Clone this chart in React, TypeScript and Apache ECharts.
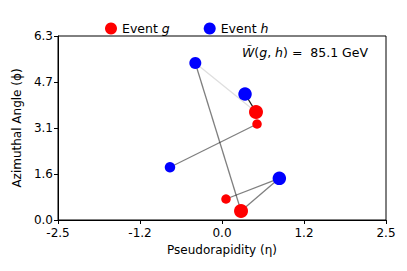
import React, { useEffect, useRef } from "react";
import * as echarts from "echarts";

const FONT = "DejaVu Sans";

// Event g (red) points: [eta, phi]
const eventG: number[][] = [
  [0.518, 3.688],
  [0.534, 3.278],
  [0.061, 0.717],
  [0.29, 0.307],
];
const sizeG: number[] = [14, 9.5, 9.5, 14];

// Event h (blue) points
const eventH: number[][] = [
  [-0.407, 5.361],
  [0.351, 4.302],
  [-0.793, 1.8],
  [0.874, 1.424],
];
const sizeH: number[] = [12, 13.5, 10.5, 13.5];

// transport flows: [h index, g index, opacity]
const flows: number[][] = [
  [0, 3, 0.5],
  [0, 0, 0.13],
  [1, 0, 0.9],
  [2, 1, 0.5],
  [3, 2, 0.5],
  [3, 3, 0.5],
];

const xTickLabels = ["-2.5", "-1.2", "0.0", "1.2", "2.5"];
const yTickLabels = ["0.0", "1.6", "3.1", "4.7", "6.3"];
const xMin = -2.5;
const xMax = 2.5;
const yMax = 2 * Math.PI;
const distanceText = "85.1 GeV";

export default function App() {
  const ref = useRef<HTMLDivElement>(null);
  useEffect(() => {
    if (!ref.current) return;
    const chart = echarts.init(ref.current, null, { renderer: "svg" });
    const xInterval = (xMax - xMin) / 4;
    const yInterval = yMax / 4;
    const idx = (v: number, min: number, step: number) => Math.round((v - min) / step);
    chart.setOption({
      animation: false,
      textStyle: { fontFamily: FONT },
      grid: {
        left: 58,
        right: 21,
        top: 36,
        bottom: 51,
        show: true,
        borderColor: "#000",
        borderWidth: 1,
        backgroundColor: "transparent",
      },
      legend: {
        data: [
          { name: "Event g", icon: "circle" },
          { name: "Event h", icon: "circle" },
        ],
        left: 100,
        top: 17,
        itemWidth: 12,
        itemHeight: 12,
        itemGap: 34,
        formatter: (name: string) => (name === "Event g" ? "Event {i|g}" : "Event {i|h}"),
        textStyle: {
          fontFamily: FONT,
          fontSize: 12.5,
          color: "#000",
          rich: { i: { fontStyle: "italic", fontFamily: FONT, fontSize: 12.5, color: "#000" } },
        },
      },
      xAxis: {
        type: "value",
        min: xMin,
        max: xMax,
        interval: xInterval,
        name: "Pseudorapidity (η)",
        nameLocation: "middle",
        nameGap: 23,
        nameTextStyle: { fontFamily: FONT, fontSize: 12, color: "#000" },
        splitLine: { show: false },
        axisLine: { show: true, onZero: false, lineStyle: { color: "#000", width: 1 } },
        axisTick: { show: true, inside: false, length: 4, lineStyle: { color: "#000" } },
        axisLabel: {
          fontFamily: FONT,
          fontSize: 12,
          color: "#000",
          margin: 7,
          formatter: (v: number) => xTickLabels[idx(v, xMin, xInterval)] ?? "",
        },
      },
      yAxis: {
        type: "value",
        min: 0,
        max: yMax,
        interval: yInterval,
        name: "Azimuthal Angle (ϕ)",
        nameLocation: "middle",
        nameGap: 24,
        nameTextStyle: { fontFamily: FONT, fontSize: 12, color: "#000" },
        splitLine: { show: false },
        axisLine: { show: true, onZero: false, lineStyle: { color: "#000", width: 1 } },
        axisTick: { show: true, inside: false, length: 4, lineStyle: { color: "#000" } },
        axisLabel: {
          fontFamily: FONT,
          fontSize: 12,
          color: "#000",
          margin: 5,
          formatter: (v: number) => yTickLabels[idx(v, 0, yInterval)] ?? "",
        },
      },
      graphic: [
        {
          type: "text",
          x: 242,
          y: 52,
          z: 100,
          style: {
            text: "{i|W̃}({i|g}, {i|h}) =  " + distanceText,
            fontFamily: FONT,
            fontSize: 12.5,
            fill: "#000",
            verticalAlign: "middle",
            rich: { i: { fontStyle: "italic", fontFamily: FONT, fontSize: 12.5, fill: "#000" } },
          },
        },
      ],
      series: [
        {
          type: "lines",
          coordinateSystem: "cartesian2d",
          silent: true,
          z: 1,
          data: flows.map((f) => ({
            coords: [eventH[f[0]], eventG[f[1]]],
            lineStyle: { color: "#000", opacity: f[2], width: 1.3 },
          })),
        },
        {
          name: "Event g",
          type: "scatter",
          z: 3,
          itemStyle: { color: "#ff0000", opacity: 1 },
          data: eventG.map((p, i) => ({ value: p, symbolSize: sizeG[i] })),
        },
        {
          name: "Event h",
          type: "scatter",
          z: 3,
          itemStyle: { color: "#0000ff", opacity: 1 },
          data: eventH.map((p, i) => ({ value: p, symbolSize: sizeH[i] })),
        },
      ],
    });
    return () => chart.dispose();
  }, []);
  return <div ref={ref} style={{ width: 407, height: 271, position: "absolute", left: 0, top: 0 }} />;
}
